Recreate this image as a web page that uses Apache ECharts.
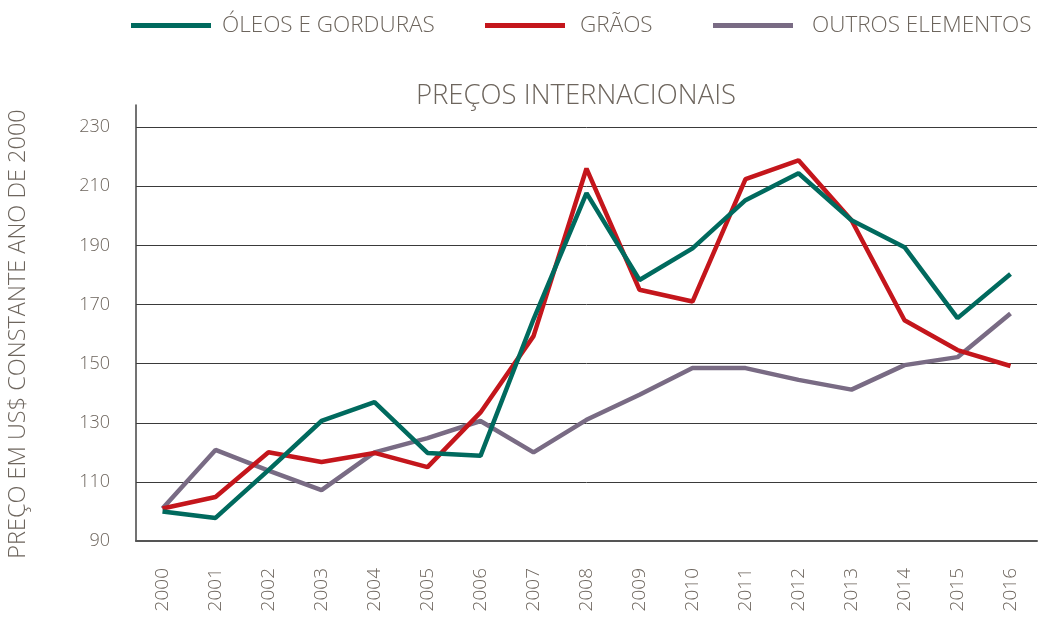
<!DOCTYPE html>
<html>
<head>
<meta charset="utf-8">
<script src="https://cdn.jsdelivr.net/npm/echarts@6/dist/echarts.min.js"></script>
<style>
  html, body { margin: 0; padding: 0; background: #fff; }
  #chart { width: 1038px; height: 621px; }
</style>
</head>
<body>
<div id="chart"></div>
<script>
// dados
const anos = ['2000', '2001', '2002', '2003', '2004', '2005', '2006', '2007', '2008',
  '2009', '2010', '2011', '2012', '2013', '2014', '2015', '2016']
const oleos = [100, 97.8, 114, 130.6, 137, 119.8, 118.8, 165, 207.7, 178.3, 189, 205.3, 214.4, 198.5, 189.4, 165.4, 180.3]
const graos = [101, 104.9, 120, 116.7, 119.8, 115, 133.5, 159.3, 216, 175, 171, 212.4, 218.8, 198.5, 164.7, 154.6, 149.2]
const outros = [101, 120.8, 113.8, 107.2, 120, 124.8, 130.6, 120, 131, 139.5, 148.5, 148.5, 144.5, 141.2, 149.5, 152.2, 167]
const nomes = ['ÓLEOS E GORDURAS', 'GRÃOS', 'OUTROS ELEMENTOS']
const cores = ['#006a5e', '#c4161c', '#796b84']

const corTexto = '#6d655d'
const fonte = "'Open Sans', sans-serif"

const chart = echarts.init(document.getElementById('chart'))

// linhas de grade: 90..230 escuras, a última (topo do eixo) invisível
const coresGrade = []
for (let v = 90; v <= 230; v += 20) coresGrade.push('#3a3a3a')
coresGrade.push('rgba(0,0,0,0)')

// uma legenda por série, para posicionar como no original
const legendaPos = [131, 485, 713]
const legendaGap = [6, 10, 14]
const legendas = nomes.map((n, i) => ({
  top: 14,
  left: legendaPos[i],
  padding: 0,
  icon: 'rect',
  itemWidth: 80,
  itemHeight: 5,
  textStyle: { color: corTexto, fontSize: 22.5, fontWeight: 300, padding: [0, 0, 0, legendaGap[i]] },
  data: [n]
}))

const option = {
  animation: false,
  textStyle: { fontFamily: fonte },
  color: cores,
  title: {
    text: 'PREÇOS INTERNACIONAIS',
    left: 571,
    textAlign: 'center',
    top: 77,
    textStyle: { color: corTexto, fontSize: 27.5, fontWeight: 300, fontFamily: fonte }
  },
  legend: legendas,
  grid: {
    left: 136,
    right: 1,
    top: 105,
    bottom: 80,
    outerBoundsMode: 'none'
  },
  xAxis: {
    type: 'category',
    data: anos,
    boundaryGap: true,
    axisLine: { show: true, lineStyle: { color: '#555', width: 2 } },
    axisTick: { show: false },
    axisLabel: { rotate: 90, margin: 27, color: corTexto, fontSize: 19, fontWeight: 300 }
  },
  yAxis: {
    type: 'value',
    min: 90,
    max: 237.5,
    interval: 20,
    name: 'PREÇO EM US$ CONSTANTE ANO DE 2000',
    nameLocation: 'middle',
    nameGap: 106,
    nameTextStyle: { color: corTexto, fontSize: 23.5, fontWeight: 300, padding: [0, 22, 0, 0] },
    axisLine: { show: true, lineStyle: { color: '#444', width: 1.5 } },
    axisTick: { show: false },
    axisLabel: { margin: 26, color: corTexto, fontSize: 18, fontWeight: 300, showMaxLabel: false },
    splitLine: { show: true, lineStyle: { color: coresGrade, width: 1 } }
  },
  series: [
    { name: nomes[0], type: 'line', data: oleos },
    { name: nomes[1], type: 'line', data: graos },
    { name: nomes[2], type: 'line', data: outros }
  ].map((s, i) => Object.assign(s, {
    symbol: 'none',
    lineStyle: { color: cores[i], width: 4.5 },
    itemStyle: { color: cores[i] },
    z: 3 - i
  }))
}

chart.setOption(option)
</script>
</body>
</html>
